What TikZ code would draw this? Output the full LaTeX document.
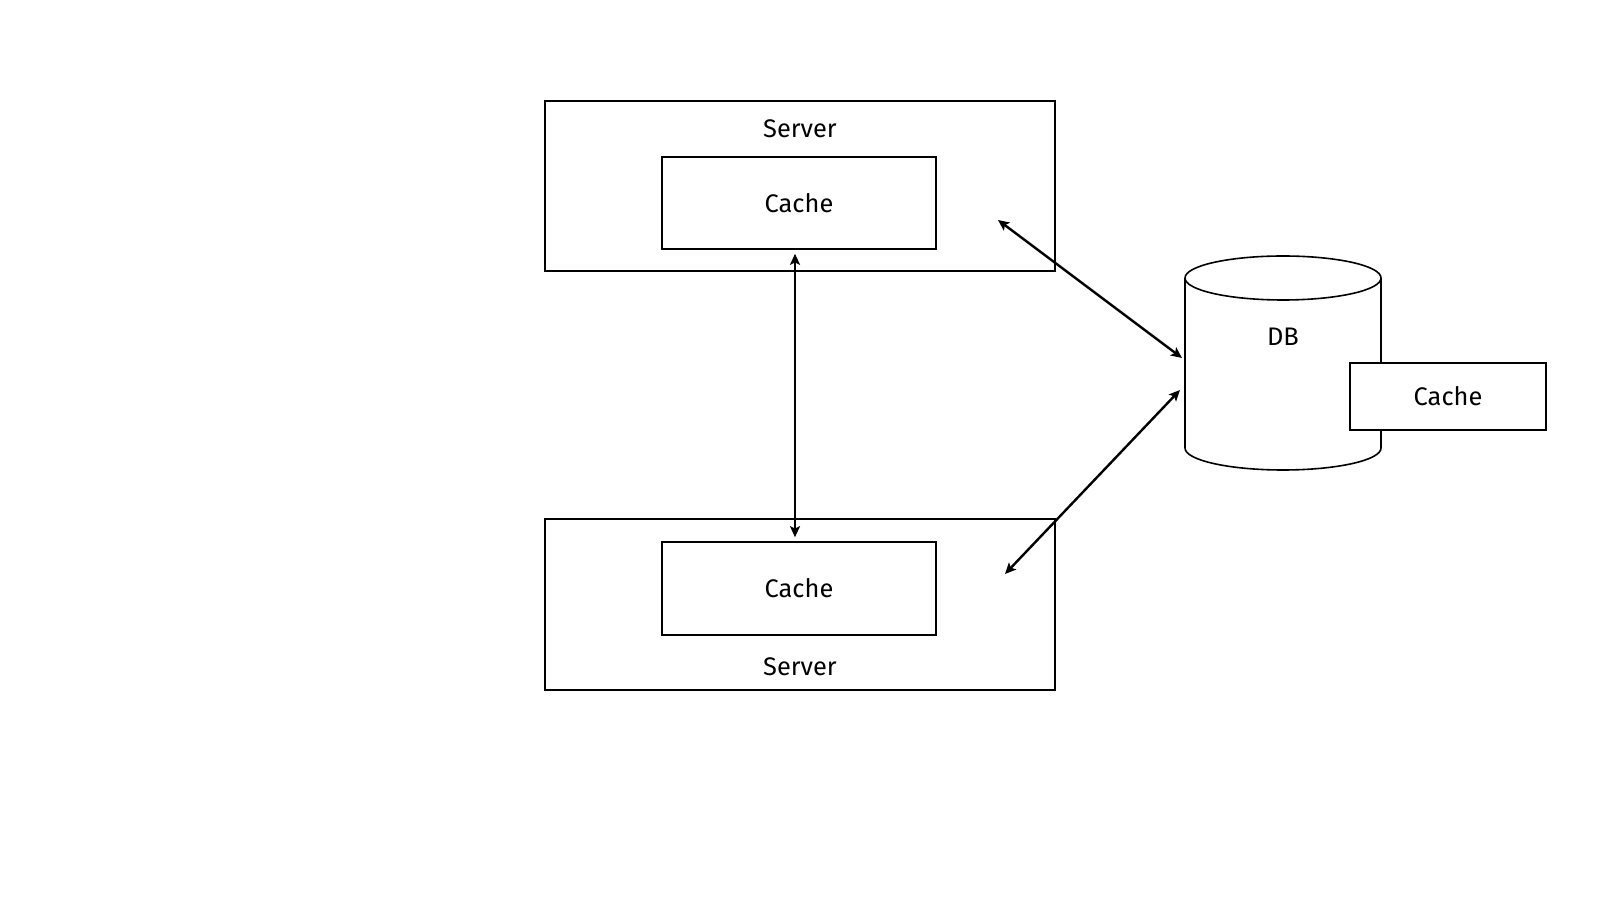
\documentclass[tikz,border=0pt]{standalone}
\usepackage{fontspec}
\setmainfont{Fira Sans}
\usetikzlibrary{arrows.meta}

\begin{document}
\begin{tikzpicture}[x=0.5pt, y=0.5pt, every node/.style={font=\fontsize{12.7}{15}\selectfont}, >={Stealth[length=5.5pt, width=5pt, inset=1.2pt]},
	box/.style={draw, line width=0.8pt, fill=white, inner sep=0pt},
	link/.style={<->, line width=1.2pt}]
	\useasboundingbox (0,0) rectangle (1600,900);
	\node[box, minimum width=255pt, minimum height=85pt] (srvA) at (800,714) {};
	\node[box, minimum width=137pt, minimum height=46pt] (cacheA) at (799,697) {Cache};
	\node (srvAlbl) at (800,771) {Server};
	\node[box, minimum width=255pt, minimum height=85.5pt] (srvB) at (800,295.5) {};
	\node[box, minimum width=137pt, minimum height=46.5pt] (cacheB) at (799,311.5) {Cache};
	\node (srvBlbl) at (800,233) {Server};
	\draw[line width=0.8pt] (1185,622) -- (1185,452) arc[start angle=180, end angle=360, x radius=98, y radius=22] -- (1381,622);
	\draw[line width=0.8pt] (1283,622) ellipse [x radius=98, y radius=22];
	\node (db) at (1283,563) {DB};
	\node[box, minimum width=98pt, minimum height=33.5pt] (cacheDB) at (1448,503.5) {Cache};
	\coordinate (srvAport) at (998,680);
	\coordinate (srvBport) at (1005,326);
	\coordinate (dbinA) at (1182,542);
	\coordinate (dbinB) at (1180,510);
	\draw[link, shorten <=2pt, shorten >=2pt] ([xshift=-2pt]cacheA.south) -- ([xshift=-2pt]cacheB.north);
	\draw[link] (srvAport) -- (dbinA);
	\draw[link] (srvBport) -- (dbinB);
\end{tikzpicture}
\end{document}
